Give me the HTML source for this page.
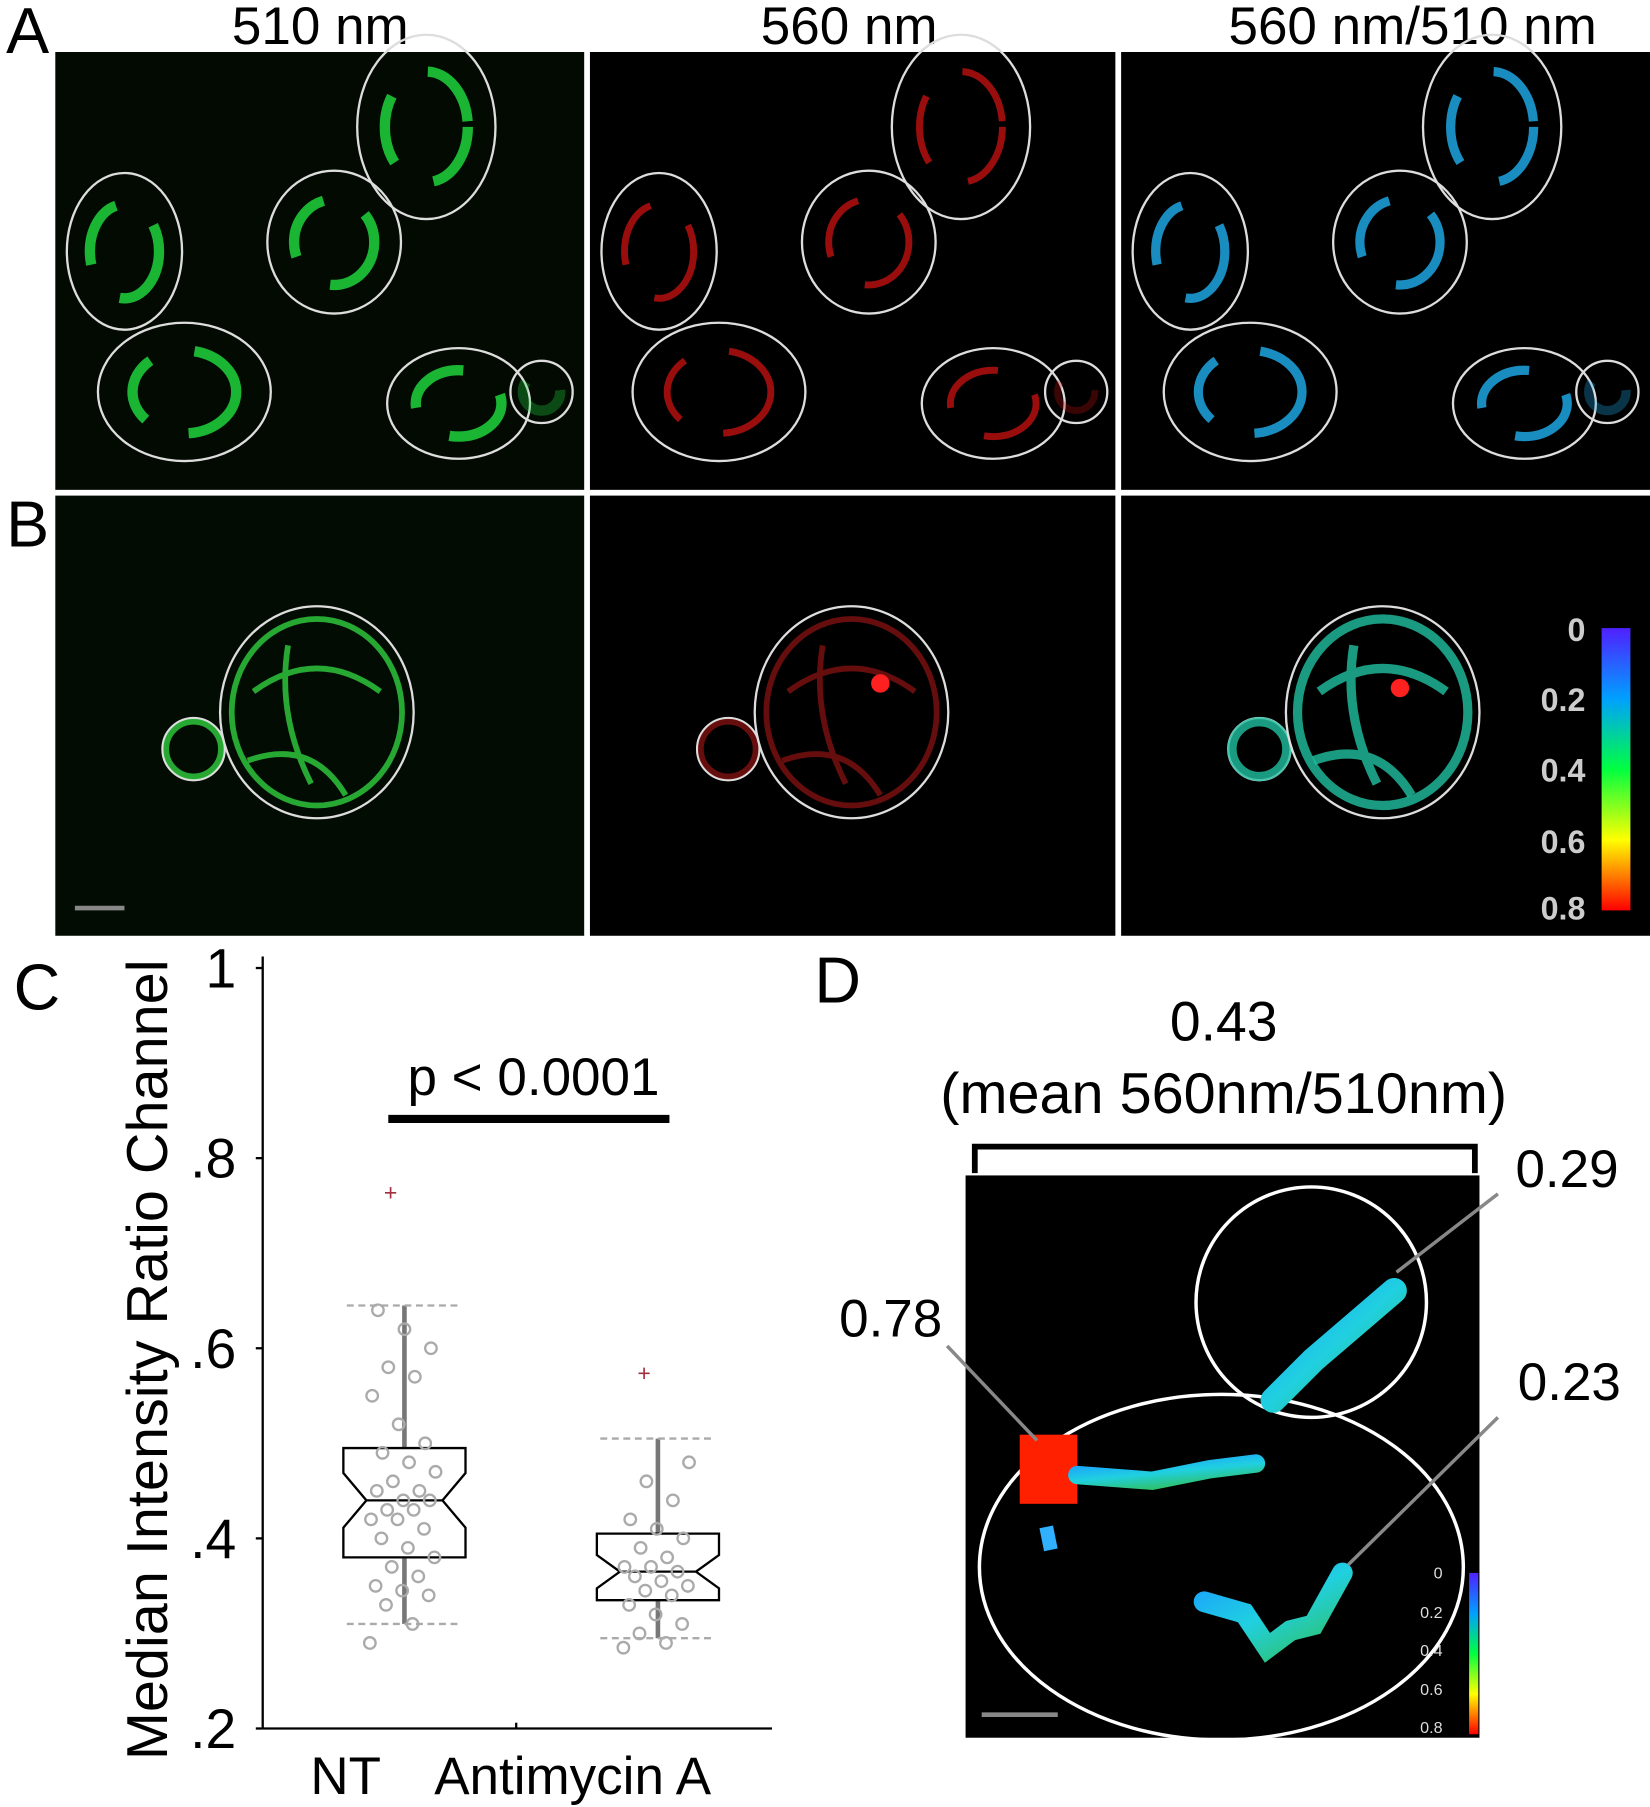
<!DOCTYPE html>
<html><head><meta charset="utf-8"><style>
html,body{margin:0;padding:0;background:#fff}
svg{display:block}
text{font-family:"Liberation Sans",sans-serif;fill:#000}
</style></head><body>
<svg width="1650" height="1807" viewBox="0 0 1432 1568">
<defs>
<linearGradient id="cb" x1="0" y1="0" x2="0" y2="1">
<stop offset="0" stop-color="#5020ff"/><stop offset="0.25" stop-color="#00a0ff"/><stop offset="0.5" stop-color="#00ff40"/><stop offset="0.75" stop-color="#ffff00"/><stop offset="1" stop-color="#ff0000"/>
</linearGradient>
<linearGradient id="cell" x1="0" y1="0" x2="1" y2="1">
<stop offset="0" stop-color="#1a9fff"/><stop offset="0.5" stop-color="#20d0e0"/><stop offset="1" stop-color="#30c060"/>
</linearGradient>
</defs>
<text x="24" y="46" font-size="56" text-anchor="middle">A</text>
<text x="278" y="38" font-size="46" text-anchor="middle">510 nm</text>
<text x="737" y="38" font-size="46" text-anchor="middle">560 nm</text>
<text x="1226" y="38" font-size="46" text-anchor="middle">560 nm/510 nm</text>
<text x="24" y="474" font-size="56" text-anchor="middle">B</text>

<g>
<rect x="48" y="45" width="459" height="380" fill="#020a02"/>
<rect x="512" y="45" width="456" height="380" fill="#000"/>
<rect x="973" y="45" width="459" height="380" fill="#000"/>
</g>
<g id="cellsA" fill="none" stroke="#ddd" stroke-width="2"></g>
<rect x="48" y="430" width="459" height="382" fill="#030c03"/>
<rect x="512" y="430" width="456" height="382" fill="#000"/>
<rect x="973" y="430" width="459" height="382" fill="#000"/>
<g id="cellsB" fill="none" stroke="#ddd" stroke-width="2"></g>
<line x1="65" y1="788" x2="108" y2="788" stroke="#888" stroke-width="4"/>
<rect x="1390" y="545" width="25" height="245" fill="url(#cb)"/>
<g font-size="28" text-anchor="end" font-weight="bold">
<text x="1376" y="556" style="fill:#ccc">0</text><text x="1376" y="617" style="fill:#ccc">0.2</text><text x="1376" y="678" style="fill:#ccc">0.4</text><text x="1376" y="740" style="fill:#ccc">0.6</text><text x="1376" y="798" style="fill:#ccc">0.8</text>
</g>

<text x="32" y="876" font-size="56" text-anchor="middle">C</text>
<text transform="translate(145,1180) rotate(-90)" font-size="50" text-anchor="middle">Median Intensity Ratio Channel</text>
<g id="chartC"></g>
<text x="463" y="950" font-size="46" text-anchor="middle">p &lt; 0.0001</text>
<line x1="337" y1="971" x2="581" y2="971" stroke="#000" stroke-width="7"/>

<text x="727" y="870" font-size="56" text-anchor="middle">D</text>
<text x="1062" y="903" font-size="48" text-anchor="middle">0.43</text>
<text x="1062" y="966" font-size="50" text-anchor="middle">(mean 560nm/510nm)</text>
<path d="M846,1018 V995 H1280 V1018" fill="none" stroke="#000" stroke-width="5"/>
<rect x="838" y="1020" width="446" height="488" fill="#000"/>
<ellipse cx="1060" cy="1360" rx="210" ry="150" fill="none" stroke="#fff" stroke-width="3"/>
<circle cx="1138" cy="1130" r="100" fill="none" stroke="#fff" stroke-width="3"/>
<path d="M1105,1215 L1140,1180 L1175,1150 L1210,1120" stroke="url(#cell)" stroke-width="22" fill="none" stroke-linecap="round"/>
<rect x="885" y="1245" width="50" height="60" fill="#ff2000"/>
<path d="M935,1280 L1000,1285 L1050,1275 L1090,1270" stroke="url(#cell)" stroke-width="16" fill="none" stroke-linecap="round"/>
<path d="M908,1325 L912,1345" stroke="#30b0ff" stroke-width="12"/>
<path d="M1045,1390 L1080,1400 L1100,1430 L1120,1415 L1140,1410 L1165,1365" stroke="url(#cell)" stroke-width="18" fill="none" stroke-linecap="round"/>
<line x1="852" y1="1488" x2="918" y2="1488" stroke="#888" stroke-width="4"/>
<rect x="1275" y="1365" width="8" height="140" fill="url(#cb)"/>
<g font-size="14" text-anchor="end">
<text x="1252" y="1370" style="fill:#ddd">0</text><text x="1252" y="1404" style="fill:#ddd">0.2</text><text x="1252" y="1437" style="fill:#ddd">0.4</text><text x="1252" y="1471" style="fill:#ddd">0.6</text><text x="1252" y="1504" style="fill:#ddd">0.8</text>
</g>
<g stroke="#888" stroke-width="3">
<line x1="1300" y1="1036" x2="1212" y2="1104"/>
<line x1="822" y1="1168" x2="900" y2="1250"/>
<line x1="1300" y1="1230" x2="1170" y2="1358"/>
</g>
<text x="1360" y="1030" font-size="46" text-anchor="middle">0.29</text>
<text x="773" y="1160" font-size="46" text-anchor="middle">0.78</text>
<text x="1362" y="1215" font-size="46" text-anchor="middle">0.23</text>
</svg>
<script>
const NS='http://www.w3.org/2000/svg';
function mk(p,tag,attrs){const e=document.createElementNS(NS,tag);for(const k in attrs)e.setAttribute(k,attrs[k]);p.appendChild(e);return e;}
const colX=[0,464,925];
const cellsA=[[108,218,50,68],[370,110,60,80],[290,210,58,62],[160,340,75,60],[398,350,62,48],[470,340,27,27]];
const ga=document.getElementById('cellsA');
const sigCol=['#20e040','#c01010',null];
colX.forEach((dx,ci)=>{cellsA.forEach(c=>{
 const e=mk(ga,'ellipse',{cx:c[0]+dx,cy:c[1],rx:c[2],ry:c[3]});
 
 
 const col=sigCol[ci];
 const s=mk(ga,'ellipse',{cx:c[0]+dx,cy:c[1],rx:c[2]*0.6,ry:c[3]*0.6,stroke:col||'#20b0f0','stroke-width':ci==0?9:(ci==1?6:8),'stroke-dasharray':'60 40',opacity:c[2]<40?0.3:0.8});
 
 
});});
const gb=document.getElementById('cellsB');
colX.forEach((dx,ci)=>{
 const col=ci==0?'#30d040':(ci==1?'#801010':'#20c0a0');
 [[168,650,27,27],[275,618,84,92]].forEach(c=>{
  const e=mk(gb,'ellipse',{cx:c[0]+dx,cy:c[1],rx:c[2],ry:c[3]});
  
  
  const s=mk(gb,'ellipse',{cx:c[0]+dx,cy:c[1],rx:c[2]*0.88,ry:c[3]*0.88,stroke:col,'stroke-width':ci==2?8:5,opacity:0.8});
  
  
 });
 const n=mk(gb,'path',{d:`M${220+dx},${600} Q${275+dx},${560} ${330+dx},${600} M${215+dx},${660} Q${270+dx},${640} ${300+dx},${690} M${250+dx},${560} Q${240+dx},${620} ${270+dx},${680}`,stroke:col,'stroke-width':ci==2?8:5,opacity:0.8});
 
 
 if(ci>0){mk(gb,'circle',{cx:300+dx+(ci==1?0:-40)+ (ci==1?-30:0)+30,cy:(ci==1?593:597),r:8,fill:'#ff2020',stroke:'none'});}
});

const groups=['NT','Antimycin A'];
const q1=[0.38,0.335], med=[0.44,0.365], q3=[0.495,0.405];
const whLo=[0.31,0.295], whHi=[0.645,0.505];
const outliers=[0.765,0.575];
const ptsNT=[0.29,0.31,0.33,0.34,0.345,0.35,0.36,0.37,0.38,0.39,0.40,0.41,0.42,0.42,0.43,0.43,0.44,0.44,0.45,0.45,0.46,0.47,0.48,0.49,0.50,0.52,0.55,0.57,0.58,0.60,0.62,0.64];
const ptsAA=[0.285,0.29,0.30,0.31,0.32,0.33,0.34,0.345,0.35,0.355,0.36,0.365,0.37,0.37,0.38,0.39,0.40,0.41,0.42,0.44,0.46,0.48];
const yTicks=[0.2,0.4,0.6,0.8,1];
const yTickLabels=['.2','.4','.6','.8','1'];
const y=v=>1500-(v-0.2)/0.8*660;
const cx=[351,571];
const g=document.getElementById('chartC');
let ax=mk(g,'line',{x1:228,y1:830,x2:228,y2:1500,stroke:'#000','stroke-width':2});


ax=mk(g,'line',{x1:228,y1:1500,x2:670,y2:1500,stroke:'#000','stroke-width':2});


mk(g,'line',{x1:448,y1:1500,x2:448,y2:1495,stroke:'#000','stroke-width':2});
yTicks.forEach((v,i)=>{
 mk(g,'line',{x1:222,y1:y(v),x2:228,y2:y(v),stroke:'#000','stroke-width':2});
 const t=mk(g,'text',{x:205,y:y(v)+17,'font-size':48,'text-anchor':'end'});
 t.textContent=yTickLabels[i];
 
 
});
const xl=[300,497];
groups.forEach((n,i)=>{
 const t=mk(g,'text',{x:xl[i],y:1557,'font-size':46,'text-anchor':'middle'});
 t.textContent=n;
 
 
});
function box(i,pts){
 const c=cx[i],hw=53,nw=20;
 mk(g,'line',{x1:c,y1:y(whLo[i]),x2:c,y2:y(whHi[i]),stroke:'#777','stroke-width':4});
 [whLo[i],whHi[i]].forEach(v=>mk(g,'line',{x1:c-50,y1:y(v),x2:c+50,y2:y(v),stroke:'#aaa','stroke-width':2,'stroke-dasharray':'6 4'}));
 const nh=(q3[i]-q1[i])*0.25;
 const d=`M${c-hw},${y(q3[i])} H${c+hw} V${y(med[i]+nh)} L${c+hw-nw},${y(med[i])} L${c+hw},${y(med[i]-nh)} V${y(q1[i])} H${c-hw} V${y(med[i]-nh)} L${c-hw+nw},${y(med[i])} L${c-hw},${y(med[i]+nh)} Z`;
 const b=mk(g,'path',{d,fill:'#fff',stroke:'#000','stroke-width':2});
 
 
 mk(g,'line',{x1:c-hw+nw,y1:y(med[i]),x2:c+hw-nw,y2:y(med[i]),stroke:'#000','stroke-width':2});
 pts.forEach((v,k)=>{
  const p=mk(g,'circle',{cx:c+((k*37)%60-30),cy:y(v),r:5,fill:'none',stroke:'#aaa','stroke-width':2});
  
  
 });
 const o=mk(g,'text',{x:c-12,y:y(outliers[i])+8,'font-size':20,'text-anchor':'middle',style:'fill:#a03040'});
 o.textContent='+';
 
 
}
box(0,ptsNT);box(1,ptsAA);
</script>
</body></html>
